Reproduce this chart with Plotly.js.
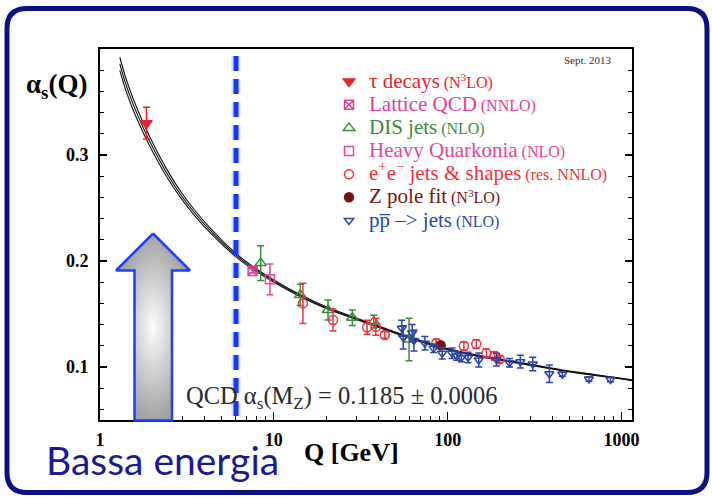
<!DOCTYPE html>
<html>
<head>
<meta charset="utf-8">
<script src="https://cdn.plot.ly/plotly-3.0.1.min.js"></script>
<style>
  html, body { margin: 0; padding: 0; background: #ffffff; }
  #chart { width: 712px; height: 498px; }
</style>
</head>
<body>
<div id="chart"></div>
<script>
// Running coupling alpha_s(Q): world summary, Sept. 2013

// QCD prediction band (central value and half-width)
const curveQ     = [1.30, 1.40, 1.55, 1.77, 2.0, 2.4, 2.9, 3.5, 4.5, 6.0, 7.5, 10, 14.7, 20, 28.7, 40, 58.6, 80, 100, 150, 200, 300, 450, 700, 1000, 1150];
const curveAlpha = [0.386, 0.368, 0.348, 0.326, 0.308, 0.284, 0.263, 0.2455, 0.2255, 0.206, 0.194, 0.181, 0.166, 0.156, 0.1465, 0.138, 0.1285, 0.1215, 0.1168, 0.1105, 0.107, 0.102, 0.097, 0.0925, 0.089, 0.0875];
const curveHalf  = [0.0062, 0.0058, 0.0053, 0.0047, 0.0042, 0.0036, 0.0030, 0.0026, 0.0021, 0.0016, 0.0014, 0.0011, 0.0009, 0.0008, 0.0007, 0.0007, 0.0006, 0.0006, 0.0006, 0.0005, 0.0005, 0.0005, 0.0004, 0.0004, 0.0004, 0.0004];

// Measurements
const tauQ = [1.85], tauAlpha = [0.330], tauErr = [0.015];
const latticeQ = [7.55], latticeAlpha = [0.1906], latticeErr = [0.002];
const disQ = [8.4, 14.2, 20.5, 28.3, 37.6, 60];
const disAlpha = [0.198, 0.168, 0.1538, 0.1465, 0.1428, 0.126];
const disErr = [0.0165, 0.010, 0.0095, 0.0073, 0.006, 0.020];
const hqQ = [9.5], hqAlpha = [0.1827], hqErr = [0.0145];
const eeQ = [14.7, 21.9, 34.4, 38.6, 43.5, 86, 124, 146, 167, 186, 199];
const eeAlpha = [0.160, 0.1443, 0.1375, 0.138, 0.1302, 0.1224, 0.1198, 0.1217, 0.113, 0.1104, 0.1073];
const eeErr = [0.019, 0.0103, 0.0066, 0.008, 0.003, 0.004, 0.004, 0.004, 0.004, 0.004, 0.003];
const zQ = [91.2], zAlpha = [0.1205], zErr = [0.001];
const ppQ = [54.5, 55.5, 62.5, 64, 74, 83, 93, 106, 113, 120, 131, 151, 191, 227, 262, 309, 385, 457, 650, 865];
const ppAlpha = [0.1365, 0.128, 0.132, 0.125, 0.1224, 0.1176, 0.113, 0.113, 0.1104, 0.109, 0.109, 0.1066, 0.107, 0.104, 0.105, 0.1028, 0.0937, 0.0932, 0.0886, 0.0882];
const ppErr = [0.0075, 0.011, 0.008, 0.010, 0.0063, 0.004, 0.0055, 0.005, 0.004, 0.004, 0.005, 0.0065, 0.006, 0.004, 0.006, 0.0063, 0.0083, 0.002, 0.002, 0.002];

// Axis ticks
const xTickVals = [1, 10, 100, 1000];
const xTickText = ['1', '10', '100', '1000'];
const yTickVals = [0.1, 0.2, 0.3];
const yTickText = ['0.1', '0.2', '0.3'];

// "Low energy" arrow outline, in page pixels
const arrowX = [153, 190, 172, 172, 134.5, 134.5, 116, 153];
const arrowY = [233.5, 270.5, 270.5, 420.5, 420.5, 270.5, 270.5, 233.5];

const W = 712, H = 498;
const frame = { left: 100, right: 632, top: 49, bottom: 420 };
const serif = 'Liberation Serif';

const colors = {
  tau: '#e8232c', lattice: '#e0409a', dis: '#3b8a3b', hq: '#e4449e',
  ee: '#ee3340', z: '#761414', pp: '#2a45a6'
};

function minorLogTicks() {
  const out = [];
  [1, 10, 100, 1000].forEach(d => {
    for (let m = 2; m <= 9; m++) if (d * m < 1150) out.push(d * m);
  });
  return out;
}
function minorLinTicks() {
  const out = [];
  for (let k = 3; k <= 19; k++) if (k % 5 !== 0) out.push(+(k * 0.02).toFixed(2));
  return out;
}

const bandLine = { color: '#111', width: 1.1, shape: 'spline', smoothing: 0.8 };
const upper = curveAlpha.map((a, i) => a + curveHalf[i]);
const lower = curveAlpha.map((a, i) => a - curveHalf[i]);

function band(y) {
  return { x: curveQ, y: y, mode: 'lines', line: bandLine, showlegend: false, hoverinfo: 'skip', xaxis: 'x', yaxis: 'y' };
}

function series(name, q, a, e, color, symbol, size) {
  return {
    name: name, x: q, y: a, mode: 'markers', xaxis: 'x', yaxis: 'y',
    marker: { symbol: symbol, size: size, color: color, line: { color: color, width: 1.5 } },
    error_y: { type: 'data', array: e, visible: true, color: color, thickness: 1.5, width: 3.5 }
  };
}

function label(main, sub, color) {
  return '<span style="color:' + color + ';font-size:21px">' + main + '</span> ' +
         '<span style="color:' + color + ';font-size:16px">' + sub + '</span>';
}

const traces = [
  band(upper), band(curveAlpha), band(lower),
  series(label('τ decays', '(N<sup>3</sup>LO)', colors.tau), tauQ, tauAlpha, tauErr, colors.tau, 'triangle-down', 10),
  series(label('Lattice QCD', '(NNLO)', colors.lattice), latticeQ, latticeAlpha, latticeErr, colors.lattice, 'square-x-open', 9),
  series(label('DIS jets', '(NLO)', colors.dis), disQ, disAlpha, disErr, colors.dis, 'triangle-up-open', 10),
  series(label('Heavy Quarkonia', '(NLO)', colors.hq), hqQ, hqAlpha, hqErr, colors.hq, 'square-open', 9),
  series(label('e<sup>+</sup>e<sup>−</sup> jets &amp; shapes', '(res. NNLO)', colors.ee), eeQ, eeAlpha, eeErr, colors.ee, 'circle-open', 9),
  series(label('Z pole fit', '(N<sup>3</sup>LO)', colors.z), zQ, zAlpha, zErr, colors.z, 'circle', 9),
  series(label('pp\u0305 –&gt; jets', '(NLO)', colors.pp), ppQ, ppAlpha, ppErr, colors.pp, 'triangle-down-open', 8),
  {
    x: arrowX, y: arrowY, xaxis: 'x2', yaxis: 'y2', mode: 'lines', fill: 'toself',
    fillgradient: { type: 'radial', colorscale: [[0, '#fcfcfc'], [1, '#a2a2a2']] },
    line: { color: '#1f3fff', width: 2.5 }, showlegend: false, hoverinfo: 'skip'
  }
];

const axisFont = { family: serif, size: 18, color: '#000', weight: 'bold' };

const layout = {
  width: W, height: H,
  margin: { l: 0, r: 0, t: 0, b: 0 },
  font: { family: serif },
  paper_bgcolor: '#ffffff', plot_bgcolor: 'rgba(0,0,0,0)',
  showlegend: true,
  legend: {
    x: 329 / W, y: 1 - 65 / H, xanchor: 'left', yanchor: 'top',
    bgcolor: 'rgba(0,0,0,0)', borderwidth: 0,
    font: { family: serif, size: 15.5, color: '#000' },
    itemclick: false, itemdoubleclick: false
  },
  xaxis: {
    type: 'log', domain: [frame.left / W, frame.right / W],
    range: [0, Math.log10(1150)], anchor: 'y',
    tickmode: 'array', tickvals: xTickVals, ticktext: xTickText,
    ticks: 'inside', ticklen: 8, tickwidth: 1.3, tickcolor: '#000',
    minor: { tickmode: 'array', tickvals: minorLogTicks(), ticks: 'inside', ticklen: 4, tickwidth: 1, tickcolor: '#000' },
    showline: true, linecolor: '#000', linewidth: 1.8, mirror: true,
    showgrid: false, zeroline: false, tickfont: axisFont, ticklabelstandoff: 3
  },
  yaxis: {
    domain: [1 - frame.bottom / H, 1 - frame.top / H],
    range: [0.05, 0.40], anchor: 'x',
    tickmode: 'array', tickvals: yTickVals, ticktext: yTickText,
    ticks: 'inside', ticklen: 7, tickwidth: 1.3, tickcolor: '#000',
    minor: { tickmode: 'array', tickvals: minorLinTicks(), ticks: 'inside', ticklen: 4, tickwidth: 1, tickcolor: '#000' },
    showline: true, linecolor: '#000', linewidth: 1.8, mirror: 'ticks',
    showgrid: false, zeroline: false, tickfont: axisFont, ticklabelstandoff: 6
  },
  // page-pixel overlay used for decorations
  xaxis2: { domain: [0, 1], range: [0, W], visible: false, fixedrange: true, anchor: 'y2' },
  yaxis2: { domain: [0, 1], range: [H, 0], visible: false, fixedrange: true, anchor: 'x2' },
  shapes: [
    {
      type: 'path', xref: 'x2', yref: 'y2',
      path: 'M 27 8.5 L 687 8.5 Q 707 8.5 707 28.5 L 707 472.5 Q 707 492.5 687 492.5 L 27 492.5 Q 7 492.5 7 472.5 L 7 28.5 Q 7 8.5 27 8.5 Z',
      line: { color: '#0c1284', width: 5 }, fillcolor: 'rgba(0,0,0,0)'
    },
    {
      type: 'line', xref: 'x2', yref: 'y2', x0: 236, x1: 236, y0: 56, y1: 420,
      line: { color: 'rgba(30,60,255,0.18)', width: 9, dash: '15px,8px' }
    },
    {
      type: 'line', xref: 'x2', yref: 'y2', x0: 236, x1: 236, y0: 56, y1: 420,
      line: { color: '#1538ff', width: 5, dash: '15px,8px' }
    }
  ],
  annotations: [
    {
      xref: 'x2', yref: 'y2', x: 24, y: 86, xanchor: 'left', yanchor: 'middle', showarrow: false,
      text: '<b>α<sub>s</sub>(Q)</b>', font: { family: serif, size: 27, color: '#000' }
    },
    {
      xref: 'x2', yref: 'y2', x: 614, y: 60, xanchor: 'right', yanchor: 'middle', showarrow: false,
      text: 'Sept. 2013', font: { family: serif, size: 11, color: '#333' }
    },
    {
      xref: 'x2', yref: 'y2', x: 184, y: 397, xanchor: 'left', yanchor: 'middle', showarrow: false,
      text: 'QCD α<sub>s</sub>(M<sub>Z</sub>) = 0.1185 ± 0.0006', font: { family: serif, size: 24.5, color: '#2a2a2a' }
    },
    {
      xref: 'x2', yref: 'y2', x: 351, y: 452, xanchor: 'center', yanchor: 'middle', showarrow: false,
      text: '<b>Q [GeV]</b>', font: { family: serif, size: 26, color: '#000' }
    },
    {
      xref: 'x2', yref: 'y2', x: 44, y: 460, xanchor: 'left', yanchor: 'middle', showarrow: false,
      text: 'Bassa energia', font: { family: 'Lato, Liberation Sans, sans-serif', size: 39, color: '#1a1a96' }
    }
  ]
};

Plotly.newPlot('chart', traces, layout, { staticPlot: true, displayModeBar: false });
</script>
</body>
</html>
